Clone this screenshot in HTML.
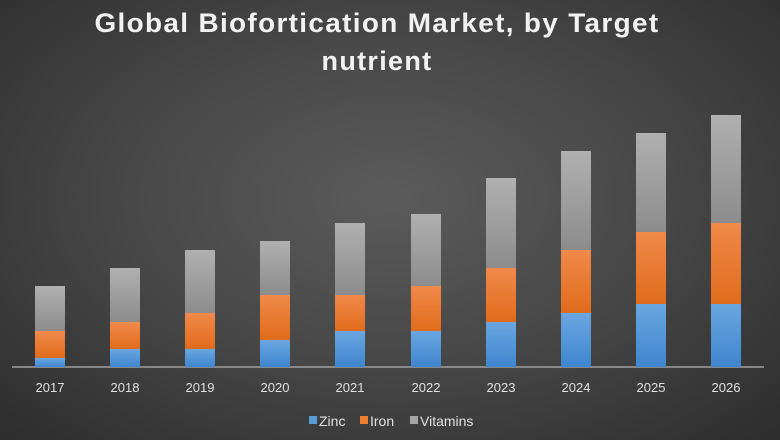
<!DOCTYPE html>
<html><head><style>
html,body{margin:0;padding:0}
body{width:780px;height:440px;overflow:hidden;background:radial-gradient(ellipse 70% 75% at 50% 45%,#5b5b5b 0%,#474747 50%,#2e2e2e 100%);font-family:"Liberation Sans",sans-serif;}
</style></head><body>
<svg width="780" height="440" xmlns="http://www.w3.org/2000/svg" style="position:absolute;left:0;top:0">
<defs>
<linearGradient id="g" x1="0" y1="0" x2="0" y2="1"><stop offset="0" stop-color="#b0b0b0"/><stop offset="1" stop-color="#8c8c8c"/></linearGradient>
<linearGradient id="o" x1="0" y1="0" x2="0" y2="1"><stop offset="0" stop-color="#f0894a"/><stop offset="1" stop-color="#e06c1c"/></linearGradient>
<linearGradient id="b" x1="0" y1="0" x2="0" y2="1"><stop offset="0" stop-color="#6aa6e0"/><stop offset="1" stop-color="#3f86cf"/></linearGradient>
</defs>
<text x="377" y="32" text-anchor="middle" fill="#f2f2f2" font-size="27" font-weight="bold" letter-spacing="1.3" textLength="565" lengthAdjust="spacingAndGlyphs">Global Biofortication Market, by Target</text>
<text x="377" y="70" text-anchor="middle" fill="#f2f2f2" font-size="27" font-weight="bold" letter-spacing="1.3">nutrient</text>
<line x1="12" y1="367" x2="764" y2="367" stroke="#a0a0a0" stroke-width="1.5"/>
<g fill="#e0e0e0" font-size="13" text-anchor="middle">
<text x="50" y="392">2017</text><text x="125" y="392">2018</text><text x="200" y="392">2019</text><text x="275" y="392">2020</text><text x="350" y="392">2021</text><text x="426" y="392">2022</text><text x="501" y="392">2023</text><text x="576" y="392">2024</text><text x="651" y="392">2025</text><text x="726" y="392">2026</text>
</g>
<g font-size="14" fill="#e0e0e0">
<rect x="309" y="416" width="8" height="8" fill="#5b9bd5"/><text x="319" y="426">Zinc</text>
<rect x="360" y="416" width="8" height="8" fill="#ed7d31"/><text x="370" y="426">Iron</text>
<rect x="410" y="416" width="8" height="8" fill="#a5a5a5"/><text x="420" y="426">Vitamins</text>
</g>
<g>
<rect x="35" y="286" width="30" height="45" fill="url(#g)"/><rect x="35" y="331" width="30" height="27" fill="url(#o)"/><rect x="35" y="358" width="30" height="9" fill="url(#b)"/>
<rect x="110" y="268" width="30" height="54" fill="url(#g)"/><rect x="110" y="322" width="30" height="27" fill="url(#o)"/><rect x="110" y="349" width="30" height="18" fill="url(#b)"/>
<rect x="185" y="250" width="30" height="63" fill="url(#g)"/><rect x="185" y="313" width="30" height="36" fill="url(#o)"/><rect x="185" y="349" width="30" height="18" fill="url(#b)"/>
<rect x="260" y="241" width="30" height="54" fill="url(#g)"/><rect x="260" y="295" width="30" height="45" fill="url(#o)"/><rect x="260" y="340" width="30" height="27" fill="url(#b)"/>
<rect x="335" y="223" width="30" height="72" fill="url(#g)"/><rect x="335" y="295" width="30" height="36" fill="url(#o)"/><rect x="335" y="331" width="30" height="36" fill="url(#b)"/>
<rect x="411" y="214" width="30" height="72" fill="url(#g)"/><rect x="411" y="286" width="30" height="45" fill="url(#o)"/><rect x="411" y="331" width="30" height="36" fill="url(#b)"/>
<rect x="486" y="178" width="30" height="90" fill="url(#g)"/><rect x="486" y="268" width="30" height="54" fill="url(#o)"/><rect x="486" y="322" width="30" height="45" fill="url(#b)"/>
<rect x="561" y="151" width="30" height="99" fill="url(#g)"/><rect x="561" y="250" width="30" height="63" fill="url(#o)"/><rect x="561" y="313" width="30" height="54" fill="url(#b)"/>
<rect x="636" y="133" width="30" height="99" fill="url(#g)"/><rect x="636" y="232" width="30" height="72" fill="url(#o)"/><rect x="636" y="304" width="30" height="63" fill="url(#b)"/>
<rect x="711" y="115" width="30" height="108" fill="url(#g)"/><rect x="711" y="223" width="30" height="81" fill="url(#o)"/><rect x="711" y="304" width="30" height="63" fill="url(#b)"/>
</g>
</svg>
</body></html>
